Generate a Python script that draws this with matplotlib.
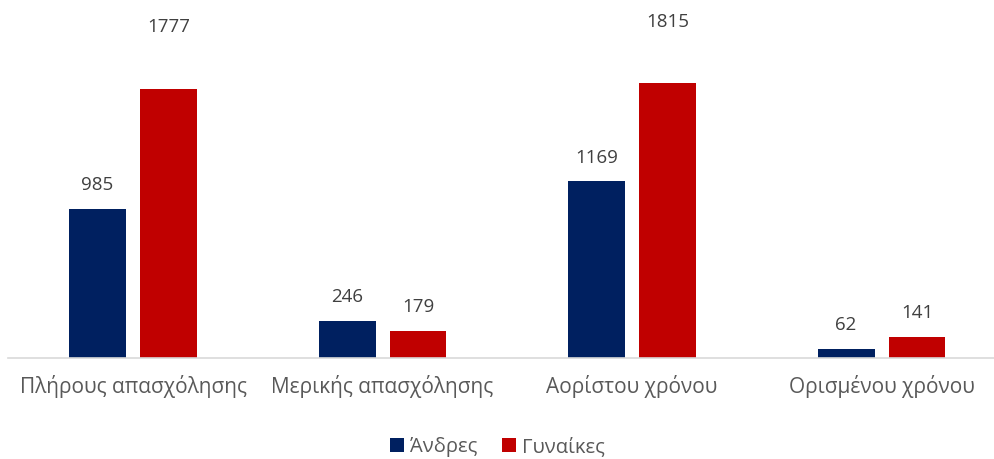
import matplotlib.pyplot as plt
import numpy as np

plt.rcParams['font.family'] = ['Open Sans', 'DejaVu Sans']

categories = ["Πλήρους απασχόλησης", "Μερικής απασχόλησης", "Αορίστου χρόνου", "Ορισμένου χρόνου"]
andres = [985, 246, 1169, 62]
gynaikes = [1777, 179, 1815, 141]
series_names = ["Άνδρες", "Γυναίκες"]

navy = "#002060"
red = "#C00000"
txt = "#595959"

fig = plt.figure(figsize=(9.95, 4.59), dpi=100)
ax = fig.add_axes([8.3 / 995, 101 / 459, 998 / 995, 302.6 / 459])

x = np.arange(len(categories))
w = 0.228
off = 0.142
b1 = ax.bar(x - off, andres, w, color=navy, label=series_names[0])
b2 = ax.bar(x + off, gynaikes, w, color=red, label=series_names[1])

# data labels (two of the red ones were dragged higher in the original)
lab_off1 = [17, 17, 17, 17]
lab_off2 = [45, 17, 44, 17]
for xi, v, o in zip(x - off, andres, lab_off1):
    ax.annotate(str(v), (xi, v), xytext=(0, o), textcoords="offset points",
                ha="center", va="center", fontsize=13.5, color="#404040",
                annotation_clip=False)
for xi, v, o in zip(x + off, gynaikes, lab_off2):
    ax.annotate(str(v), (xi, v), xytext=(0, o), textcoords="offset points",
                ha="center", va="center", fontsize=13.5, color="#404040",
                annotation_clip=False)

ax.set_xlim(-0.5, 3.5)
ax.set_ylim(0, 2000)
ax.set_xticks(x)
ax.set_xticklabels(categories, fontsize=15, color=txt)
ax.tick_params(axis="x", length=0, pad=12)
ax.set_yticks([])
for s in ["top", "right", "left"]:
    ax.spines[s].set_visible(False)
ax.spines["bottom"].set_color("#D9D9D9")
ax.spines["bottom"].set_linewidth(1.2)

leg = fig.legend(handles=[b1, b2], labels=series_names, loc="center",
                 bbox_to_anchor=(0.5, 1 - 447 / 459), ncol=2, frameon=False,
                 fontsize=14.5, handlelength=0.7, handleheight=0.7,
                 handletextpad=0.3, columnspacing=1.2)
for t in leg.get_texts():
    t.set_color(txt)

fig.savefig("out.png", dpi=100)
